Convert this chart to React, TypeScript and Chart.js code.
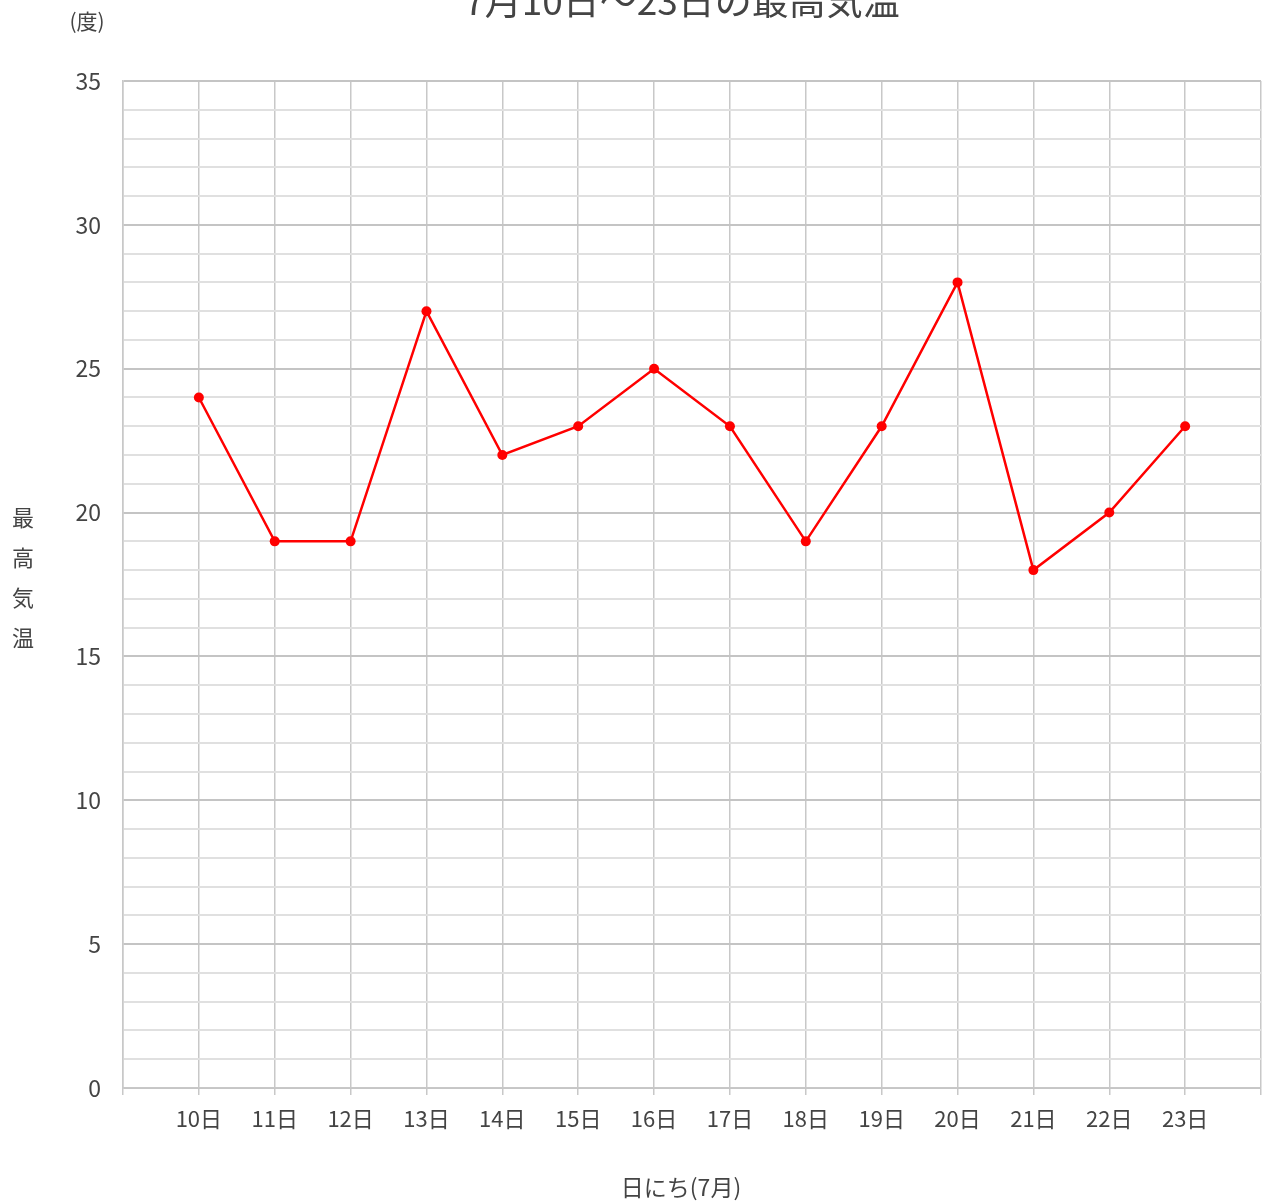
import React, { useEffect, useRef } from "react";
import { Chart, registerables } from "chart.js";

Chart.register(...registerables);

const dayLabels = ["", "10日", "11日", "12日", "13日", "14日", "15日", "16日", "17日", "18日", "19日", "20日", "21日", "22日", "23日", ""];
const maxTemps = [null, 24, 19, 19, 27, 22, 23, 25, 23, 19, 23, 28, 18, 20, 23, null];
const chartTitle = "7月10日〜23日の最高気温";
const xTitle = "日にち(7月)";
const yTitleChars = ["最", "高", "気", "温"];
const unitLabel = "(度)";

const FONT = "'Noto Sans CJK JP', 'Noto Sans', sans-serif";
const TEXT = "#444444";

const textPlugin = {
  id: "texts",
  afterDraw(chart: any) {
    const ctx = chart.ctx;
    ctx.save();
    ctx.fillStyle = TEXT;
    ctx.textAlign = "center";
    ctx.textBaseline = "middle";
    ctx.font = `37px ${FONT}`;
    ctx.fillText(chartTitle, 682, 1);
    ctx.font = `23px ${FONT}`;
    ctx.fillText(xTitle, 681, 1187);
    ctx.font = `21px ${FONT}`;
    ctx.fillText(unitLabel, 87, 21);
    ctx.font = `22px ${FONT}`;
    yTitleChars.forEach((c, i) => ctx.fillText(c, 23, 518 + i * 40));
    ctx.restore();
  },
};

export default function App() {
  const ref = useRef<HTMLCanvasElement>(null);
  useEffect(() => {
    const canvas = ref.current;
    if (!canvas) return;
    const chart = new Chart(canvas, {
      type: "line",
      data: {
        labels: dayLabels,
        datasets: [
          {
            data: maxTemps as any,
            borderColor: "#ff0000",
            backgroundColor: "#ff0000",
            borderWidth: 2.5,
            pointRadius: (c: any) => (c.raw == null ? 0 : 5),
            pointBorderWidth: 0,
            pointBackgroundColor: "#ff0000",
            tension: 0,
            spanGaps: false,
          },
        ],
      },
      options: {
        responsive: false,
        animation: false,
        layout: { padding: { top: 81, right: 2, left: 0, bottom: 0 } },
        plugins: {
          legend: { display: false },
          tooltip: { enabled: false },
          title: { display: false },
        },
        scales: {
          x: {
            type: "category",
            offset: false,
            afterFit: (s: any) => {
              s.height = 114;
              s.paddingLeft = 0;
              s.paddingRight = 0;
            },
            grid: {
              color: "#c8c8c8",
              lineWidth: 1.5,
              drawTicks: true,
              tickLength: 7,
            },
            border: { display: true, color: "#c8c8c8", width: 1.5 },
            ticks: {
              autoSkip: false,
              maxRotation: 0,
              padding: 10,
              color: TEXT,
              font: { family: FONT, size: 22 },
            },
          },
          y: {
            type: "linear",
            min: 0,
            max: 35,
            afterFit: (s: any) => {
              s.width = 123;
              s.paddingTop = 0;
              s.paddingBottom = 0;
            },
            grid: {
              color: (c: any) => (c.tick && c.tick.value % 5 === 0 ? "#c4c4c4" : "#e0e0e0"),
              lineWidth: 2,
              drawTicks: false,
            },
            border: { display: true, color: "#c8c8c8", width: 1.5 },
            ticks: {
              stepSize: 1,
              autoSkip: false,
              padding: 22,
              color: TEXT,
              font: { family: FONT, size: 23 },
              callback: (v: any) => (Number(v) % 5 === 0 ? String(v) : ""),
            },
          },
        },
      },
      plugins: [textPlugin],
    });
    return () => chart.destroy();
  }, []);
  return (
    <canvas
      ref={ref}
      width={1263}
      height={1202}
      style={{ position: "fixed", left: 0, top: 0, width: 1263, height: 1202 }}
    />
  );
}
